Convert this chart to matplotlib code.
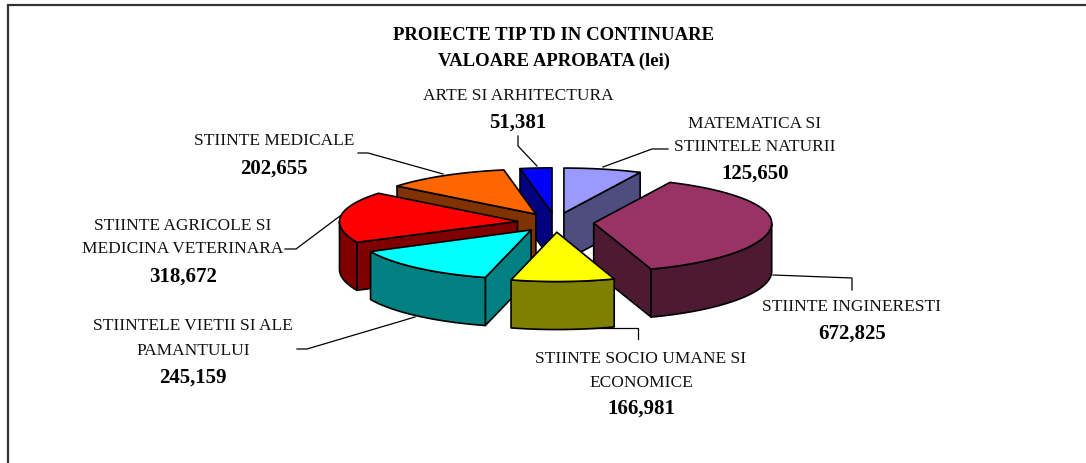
import numpy as np
import matplotlib
matplotlib.use("Agg")
import matplotlib.pyplot as plt
from matplotlib.patches import Polygon

# Datos
categorias = ["MATEMATICA SI\nSTIINTELE NATURII", "STIINTE INGINERESTI",
              "STIINTE SOCIO UMANE SI\nECONOMICE", "STIINTELE VIETII SI ALE\nPAMANTULUI",
              "STIINTE AGRICOLE SI\nMEDICINA VETERINARA", "STIINTE MEDICALE",
              "ARTE SI ARHITECTURA"]
valori = [125650, 672825, 166981, 245159, 318672, 202655, 51381]
titlu = ["PROIECTE TIP TD IN CONTINUARE", "VALOARE APROBATA (lei)"]

# Colores (cara superior, pared)
culori_sus = ["#9999FF", "#993366", "#FFFF00", "#00FFFF", "#FF0000", "#FF6600", "#0000FF"]
culori_lat = ["#4D4D80", "#4D1933", "#808000", "#008080", "#800000", "#803300", "#000080"]

# Geometria de la torta, en pixeles
cx, cy = 555.5, 223.5
rx, ry = 178, 45
adancime = 48
explozie = 0.215
perspectiva = 0.08  # la parte delantera se ve un poco mas grande
lw = 1.2

# Posicion de los textos: x centro, y de cada linea de nombre, y del valor
pos_text = [(755, [124, 147], 174), (852, [307], 334), (641, [359, 383], 409),
            (193, [326, 351], 378), (183, [226, 249], 277), (274, [141], 169),
            (518, [96], 123)]
lineas_guia = [[(603, 168), (652, 150), (668, 150)],
               [(773, 276), (852, 279), (852, 291)],
               [(580, 329), (638, 329), (638, 340)],
               [(415, 318), (307, 350), (297, 350)],
               [(340, 217), (296, 250), (285, 250)],
               [(443, 175), (368, 154), (358, 154)],
               [(537, 167), (518, 147), (518, 137)]]

fig = plt.figure(figsize=(10.86, 4.64), dpi=100)
ax = fig.add_axes([0, 0, 1, 1])
ax.set_xlim(0, 1086)
ax.set_ylim(464, 0)
ax.axis("off")
serif = "Liberation Serif"

# borde del grafico: solo arriba e izquierda
ax.plot([1086, 7.5, 7.5], [5.5, 5.5, 464], color="#333333", lw=1.6, solid_joinstyle="miter")


def punct(t, apex):
    y = apex[1] - ry * np.cos(t)
    return apex[0] + rx * np.sin(t), y + perspectiva * max(0, y - cy)


def pared(puntos, color, z):
    # extruye una polilinea hacia abajo
    jos = [(x, y + adancime) for x, y in puntos]
    ax.add_patch(Polygon(list(puntos) + jos[::-1], closed=True, facecolor=color,
                         edgecolor="black", lw=lw, joinstyle="round", zorder=z))


total = sum(valori)
unghiuri = np.cumsum([0] + valori) / total * 2 * np.pi
felii = []
for i in range(len(valori)):
    t0, t1 = unghiuri[i], unghiuri[i + 1]
    mid = (t0 + t1) / 2
    apex = (cx + explozie * rx * np.sin(mid), cy - explozie * ry * np.cos(mid))
    felii.append((apex[1], i, t0, t1, apex))

# de atras hacia adelante
felii.sort(key=lambda f: f[0])
for k, (_, i, t0, t1, apex) in enumerate(felii):
    z = 2 + k
    ts = np.linspace(t0, t1, 80)
    arc = [punct(t, apex) for t in ts]
    if np.sin(t0) < 0:
        pared([apex, arc[0]], culori_lat[i], z)
    if np.sin(t1) > 0:
        pared([arc[-1], apex], culori_lat[i], z)
    vizibil = [p for t, p in zip(ts, arc) if np.cos(t) < 0]
    if len(vizibil) > 1:
        pared(vizibil, culori_lat[i], z)
    ax.add_patch(Polygon([apex] + arc, closed=True, facecolor=culori_sus[i],
                         edgecolor="black", lw=lw, joinstyle="round", zorder=z))

for linie in lineas_guia:
    xs, ys = zip(*linie)
    ax.plot(xs, ys, color="black", lw=0.9, zorder=1, solid_joinstyle="miter")

for linie, y in zip(titlu, [35, 61.5]):
    ax.text(554, y, linie, family=serif, weight="bold", fontsize=13.5, ha="center",
            va="center", color="black")

for nume, val, (x, ys, y_val) in zip(categorias, valori, pos_text):
    for linie, y in zip(nume.split("\n"), ys):
        ax.text(x, y, linie, family=serif, fontsize=12.5, ha="center", va="center", color="#111111")
    ax.text(x, y_val, f"{val:,}", family=serif, weight="bold", fontsize=15,
            ha="center", va="center", color="black")

fig.savefig("out.png", dpi=100, facecolor="white")
